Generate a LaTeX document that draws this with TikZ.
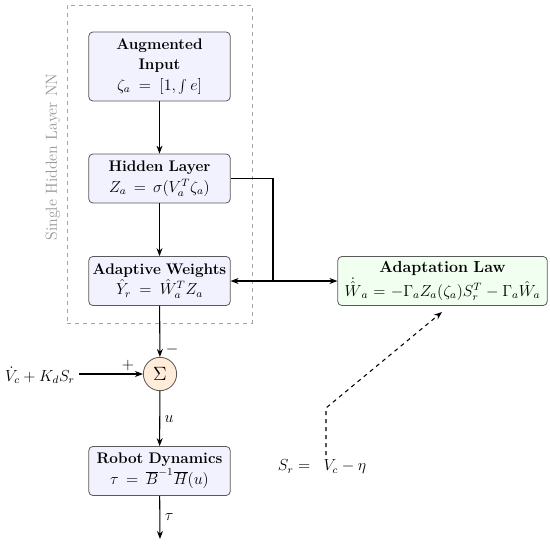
\documentclass[tikz,border=0pt]{standalone}
\usetikzlibrary{arrows.meta}

\tikzset{
  block/.style={draw=black!65, fill=blue!5, rounded corners=3pt, line width=0.6pt,
    minimum width=105.75pt, text width=104pt, align=center, inner sep=1pt,
    minimum height=36.75pt, font=\fontsize{11.5}{15.5}\selectfont},
  lawblock/.style={block, fill=green!6, minimum width=157pt, text width=155pt,
    font=\fontsize{12}{16}\selectfont},
  sumnode/.style={circle, draw=black!65, fill=orange!15, line width=0.6pt,
    minimum size=25pt, inner sep=0pt, font=\fontsize{14}{16}\selectfont},
  flow/.style={-{Stealth[length=6pt,width=4.5pt]}, line width=0.8pt},
  lbl/.style={font=\fontsize{12}{14}\selectfont}
}

\begin{document}
\begin{tikzpicture}[x=0.75pt,y=-0.75pt]
\useasboundingbox (0,0) rectangle (550,544);

% neural network part
\node[draw=black!35, dashed, line width=0.6pt, minimum width=138.75pt, minimum height=238.5pt] (nnbox) at (159.5,164) {};
\node[lbl, text=black!40, rotate=90] (nnlabel) at (53,157) {Single Hidden Layer NN};

\node[block, minimum height=51.75pt] (aug) at (159.5,66.5) {\textbf{Augmented}\\ \textbf{Input}\\ $\zeta_a = [1, \int e]$};
\node[block] (hid) at (159.5,178.5) {\textbf{Hidden Layer}\\ $Z_a = \sigma(V_a^T \zeta_a)$};
\node[block] (adw) at (159.5,281) {\textbf{Adaptive Weights}\\ $\hat{Y}_r = \hat{W}_a^T Z_a$};

% adaptation
\node[lawblock] (law) at (442.5,281) {\textbf{Adaptation Law}\\ $\dot{\hat{W}}_a = -\Gamma_a Z_a(\zeta_a) S_r^T - \Gamma_a \hat{W}_a$};
\node[lbl] (sr) at (322,467) {$S_r = \;\; V_c - \eta$};

% control loop
\node[sumnode] (sum) at (160,374) {$\Sigma$};
\node[lbl] (vin) at (40,375) {$\dot{V}_c + K_d S_r$};
\node[block] (rob) at (159.5,471) {\textbf{Robot Dynamics}\\ $\tau = \overline{B}^{-1}\overline{H}(u)$};

\coordinate (split) at (273,281);
\coordinate (out) at (160,539);
\coordinate (srtop) at (326,455);
\coordinate (srbend) at (326,408);
\coordinate (lawin) at (442,312);

\draw[flow] (aug) -- (hid);
\draw[flow] (hid) -- (adw);
\draw[line width=0.8pt] (hid.east) -| (split);
\draw[flow] (split) -- (adw.east);
\draw[flow] (split) -- (law.west);

\draw[flow] (adw) -- (sum);
\node[lbl] (minus) at (172,349) {$-$};
\draw[flow] (vin.east |- sum) -- (sum.west);
\node[lbl] (plus) at (128,365) {$+$};
\draw[flow] (sum) -- node[lbl, right] {$u$} (rob);
\draw[flow] (rob) -- node[lbl, right] {$\tau$} (out);

\draw[flow, dashed] (srtop) -- (srbend) -- (lawin);
\end{tikzpicture}
\end{document}
